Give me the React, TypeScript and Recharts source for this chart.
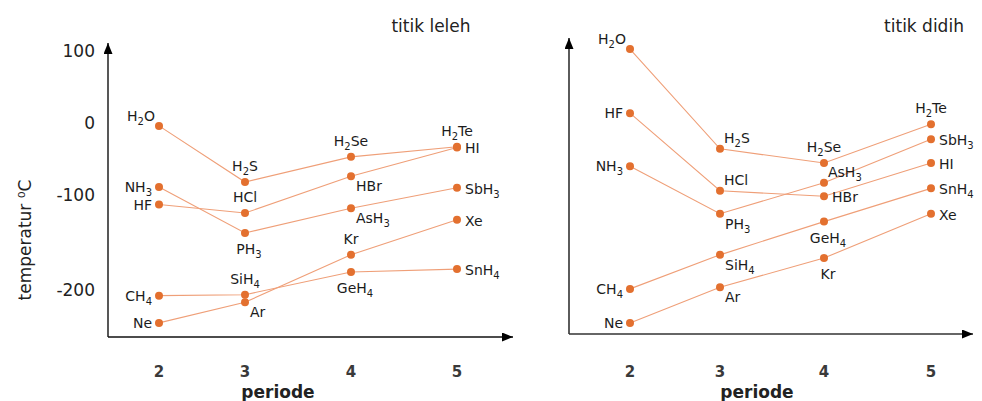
import React from 'react';
import { LineChart, Line, XAxis, YAxis, LabelList } from 'recharts';

// ---------------- data ----------------
const periods = [2, 3, 4, 5];
const periodTicks = [2, 3, 4, 5];
const tempTicks = [100, 0, -100, -200];

const group14Names = ['CH4', 'SiH4', 'GeH4', 'SnH4'];
const group15Names = ['NH3', 'PH3', 'AsH3', 'SbH3'];
const group16Names = ['H2O', 'H2S', 'H2Se', 'H2Te'];
const group17Names = ['HF', 'HCl', 'HBr', 'HI'];
const group18Names = ['Ne', 'Ar', 'Kr', 'Xe'];

// titik leleh (°C)
const melt14 = [-206, -205, -181, -178];
const melt15 = [-89, -140, -114, -90];
const melt16 = [-4, -82, -47, -33];
const melt17 = [-110, -119, -74, -34];
const melt18 = [-235, -213, -163, -126];

// titik didih (°C)
const boil14 = [-203, -160, -118, -76];
const boil15 = [-48, -108, -69, -14];
const boil16 = [100, -26, -44, 5];
const boil17 = [19, -79, -86, -44];
const boil18 = [-246, -201, -164, -108];

// ---------------- layout / style ----------------
const FONT = 'DejaVu Sans';
const LINE_COLOR = '#EF9F78';
const DOT_COLOR = '#E3702F';

// axis knots of the hand-drawn figure (value -> pixel along the axis)
const LEFT_X_KNOTS = { values: [1.5, 2, 3, 4, 5, 5.5], px: [108, 159, 245, 351, 457, 513] };
const LEFT_Y_KNOTS = { values: [-250, -200, -100, 0, 100, 111], px: [337, 290, 195, 123, 51, 43] };
const RIGHT_X_KNOTS = { values: [1.5, 2, 3, 4, 5, 5.5], px: [569, 630, 720, 824, 931, 973] };

const PLACE: Record<string, { dx: number; dy: number; anchor: string }> = {
  l: { dx: -7, dy: 0, anchor: 'end' },
  tl: { dx: -4, dy: -10, anchor: 'end' },
  t: { dx: 0, dy: -16, anchor: 'middle' },
  b: { dx: 4, dy: 16, anchor: 'middle' },
  r: { dx: 8, dy: 1, anchor: 'start' },
  tr: { dx: 4, dy: -11, anchor: 'start' },
  br: { dx: 5, dy: 10, anchor: 'start' },
};

const LEFT_PLACE: Record<string, string> = {
  H2O: 'tl', NH3: 'l', HF: 'l', CH4: 'l', Ne: 'l',
  H2S: 't', HCl: 't', PH3: 'b', SiH4: 't', Ar: 'br',
  H2Se: 't', HBr: 'br', AsH3: 'br', Kr: 't', GeH4: 'b',
  H2Te: 't', HI: 'r', SbH3: 'r', Xe: 'r', SnH4: 'r',
};
const RIGHT_PLACE: Record<string, string> = {
  H2O: 'tl', HF: 'l', NH3: 'l', CH4: 'l', Ne: 'l',
  H2S: 'tr', HCl: 'tr', PH3: 'br', SiH4: 'br', Ar: 'br',
  H2Se: 't', AsH3: 'tr', HBr: 'r', GeH4: 'b', Kr: 'b',
  H2Te: 't', SbH3: 'r', HI: 'r', SnH4: 'r', Xe: 'r',
};

// ---------------- helpers ----------------
const groups = [
  { key: 'g14', names: group14Names },
  { key: 'g15', names: group15Names },
  { key: 'g16', names: group16Names },
  { key: 'g17', names: group17Names },
  { key: 'g18', names: group18Names },
];

function buildRows(series: number[][]) {
  return periods.map((p, i) => {
    const row: any = { periode: p };
    groups.forEach((g, gi) => {
      row[g.key] = series[gi][i];
      row[g.key + 'Name'] = g.names[i];
    });
    return row;
  });
}

const meltRows = buildRows([melt14, melt15, melt16, melt17, melt18]);
const boilRows = buildRows([boil14, boil15, boil16, boil17, boil18]);

function knotScale(values: number[], px: number[]): any {
  const p0 = px[0];
  const pN = px[px.length - 1];
  const fr = px.map((p) => (p - p0) / (pN - p0));
  let dom: any[] = [values[0], values[values.length - 1]];
  let rng: number[] = [0, 1];
  const toFrac = (v: number) => {
    let i = 0;
    while (i < values.length - 2 && v > values[i + 1]) i++;
    return fr[i] + ((v - values[i]) / (values[i + 1] - values[i])) * (fr[i + 1] - fr[i]);
  };
  const fromFrac = (f: number) => {
    let i = 0;
    while (i < fr.length - 2 && f > fr[i + 1]) i++;
    return values[i] + ((f - fr[i]) / (fr[i + 1] - fr[i])) * (values[i + 1] - values[i]);
  };
  const s: any = (v: any) => rng[0] + (rng[1] - rng[0]) * toFrac(Number(v));
  s.domain = (...a: any[]) => {
    if (!a.length) return dom.slice();
    dom = Array.from(a[0]);
    return s;
  };
  s.range = (...a: any[]) => {
    if (!a.length) return rng.slice();
    rng = Array.from(a[0] as any[]).map(Number);
    return s;
  };
  s.invert = (p: number) => fromFrac((p - rng[0]) / (rng[1] - rng[0]));
  s.ticks = () => values.slice(1, -1);
  s.tickFormat = () => (d: any) => String(d);
  s.nice = () => s;
  s.clamp = () => s;
  s.copy = () => knotScale(values, px).domain(dom).range(rng);
  return s;
}

const leftXScale = knotScale(LEFT_X_KNOTS.values, LEFT_X_KNOTS.px);
const leftYScale = knotScale(LEFT_Y_KNOTS.values, LEFT_Y_KNOTS.px);
const rightXScale = knotScale(RIGHT_X_KNOTS.values, RIGHT_X_KNOTS.px);

function Formula({ x, y, anchor, text }: { x: number; y: number; anchor: any; text: string }) {
  const parts = text.match(/[A-Za-z]+|\d+/g) || [];
  let prevSub = false;
  return (
    <text x={x} y={y} textAnchor={anchor} fontFamily={FONT} fontSize={14} fill="#1c1c1c">
      {parts.map((p, i) => {
        const sub = /^\d+$/.test(p);
        const dy = sub ? 4 : prevSub ? -4 : 0;
        prevSub = sub;
        return (
          <tspan key={i} dy={dy} fontSize={sub ? 10 : 14}>
            {p}
          </tspan>
        );
      })}
    </text>
  );
}

const makeLabel = (placement: Record<string, string>) => (props: any) => {
  const { x, y, value } = props;
  if (x == null || y == null) return null;
  const pl = PLACE[placement[String(value)]] || PLACE.r;
  return <Formula x={x + pl.dx} y={y + pl.dy + 5} anchor={pl.anchor} text={String(value)} />;
};

const leftLabel = makeLabel(LEFT_PLACE);
const rightLabel = makeLabel(RIGHT_PLACE);

function renderLines(labelFn: any) {
  return groups.map((g) => (
    <Line
      key={g.key}
      type="linear"
      dataKey={g.key}
      stroke={LINE_COLOR}
      strokeWidth={1.1}
      dot={{ r: 4, fill: DOT_COLOR, stroke: 'none' }}
      activeDot={false}
      isAnimationActive={false}
    >
      <LabelList dataKey={g.key + 'Name'} content={labelFn} />
    </Line>
  ));
}

const axisStyle = { stroke: '#111', strokeWidth: 1.4 };
const tickStyleX = { fontSize: 15, fontWeight: 700, fill: '#3a3a3a', fontFamily: FONT };

export default function App() {
  return (
    <div
      style={{
        position: 'absolute',
        left: 0,
        top: 0,
        width: 982,
        height: 401,
        background: '#fff',
        fontFamily: FONT,
        overflow: 'hidden',
      }}
    >
      <svg width={0} height={0} style={{ position: 'absolute' }}>
        <defs>
          <marker
            id="arrowHead"
            markerUnits="userSpaceOnUse"
            markerWidth={11}
            markerHeight={9}
            viewBox="0 0 11 9"
            refX={11}
            refY={4.5}
            orient="auto-start-reverse"
          >
            <path d="M0,0 L11,4.5 L0,9 z" fill="#000" />
          </marker>
        </defs>
      </svg>

      <div style={{ position: 'absolute', left: 0, top: 0 }}>
        <LineChart width={540} height={401} data={meltRows} margin={{ top: 43, right: 27, bottom: 34, left: 48 }}>
          <XAxis
            dataKey="periode"
            type="number"
            scale={leftXScale}
            domain={[1.5, 5.5]}
            ticks={periodTicks}
            interval={0}
            allowDataOverflow
            height={30}
            tickLine={false}
            tickSize={0}
            tickMargin={29}
            axisLine={{ ...axisStyle, markerEnd: 'url(#arrowHead)' }}
            tick={tickStyleX}
          />
          <YAxis
            type="number"
            scale={leftYScale}
            domain={[-250, 111]}
            ticks={tempTicks}
            interval={0}
            allowDataOverflow
            width={60}
            tickLine={false}
            tickSize={0}
            tickMargin={13}
            axisLine={{ ...axisStyle, markerStart: 'url(#arrowHead)' }}
            tick={{ fontSize: 17, fill: '#222', fontFamily: FONT }}
          />
          {renderLines(leftLabel)}
        </LineChart>
      </div>

      <div style={{ position: 'absolute', left: 540, top: 0 }}>
        <LineChart width={442} height={401} data={boilRows} margin={{ top: 38, right: 9, bottom: 37, left: 19 }}>
          <XAxis
            dataKey="periode"
            type="number"
            scale={rightXScale}
            domain={[1.5, 5.5]}
            ticks={periodTicks}
            interval={0}
            allowDataOverflow
            height={30}
            tickLine={false}
            tickSize={0}
            tickMargin={32}
            axisLine={{ stroke: '#333', strokeWidth: 1.6, markerEnd: 'url(#arrowHead)' }}
            tick={tickStyleX}
          />
          <YAxis
            type="number"
            domain={[-260, 114]}
            allowDataOverflow
            width={10}
            tick={false}
            tickLine={false}
            axisLine={{ stroke: '#333', strokeWidth: 1.6, markerStart: 'url(#arrowHead)' }}
          />
          {renderLines(rightLabel)}
        </LineChart>
      </div>

      <svg width={982} height={401} style={{ position: 'absolute', left: 0, top: 0, pointerEvents: 'none' }}>
        <text x={431} y={32} textAnchor="middle" fontFamily={FONT} fontSize={17} fill="#222">
          titik leleh
        </text>
        <text x={924} y={32} textAnchor="middle" fontFamily={FONT} fontSize={17} fill="#222">
          titik didih
        </text>
        <text
          transform="translate(31,240) rotate(-90)"
          textAnchor="middle"
          fontFamily={FONT}
          fontSize={17}
          fill="#222"
        >
          temperatur ⁰C
        </text>
        <text x={278} y={398} textAnchor="middle" fontFamily={FONT} fontSize={17} fontWeight={700} fill="#222">
          periode
        </text>
        <text x={757} y={398} textAnchor="middle" fontFamily={FONT} fontSize={17} fontWeight={700} fill="#222">
          periode
        </text>
      </svg>
    </div>
  );
}
